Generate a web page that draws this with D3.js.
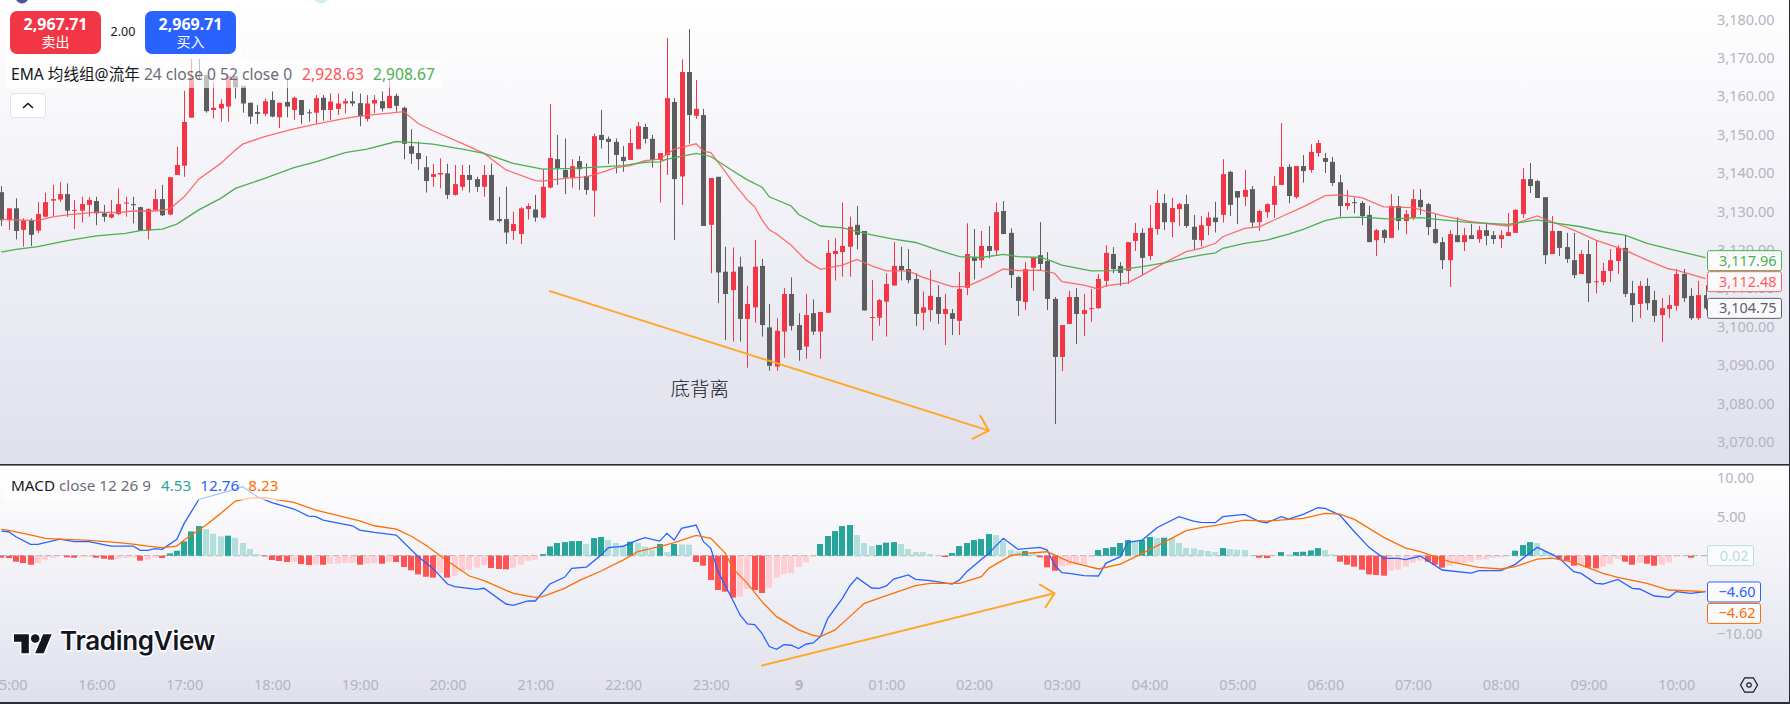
<!DOCTYPE html>
<html><head><meta charset="utf-8">
<script src="https://cdn.jsdelivr.net/npm/d3@7/dist/d3.min.js"></script>
<style>html,body{margin:0;padding:0;background:#fff;overflow:hidden}svg{display:block}</style>
</head><body><svg id="c" width="1790" height="704"></svg>
<script>
// Bars are 5-minute candles; bar number 0 is the 16:00 candle, first bar is number -13.
const firstBar = -13;
const opens = [
3135.0,3127.7,3130.8,3125.2,3127.7,3125.0,3128.6,3132.8,3133.1,3134.5,
3130.2,3130.2,3131.7,3132.7,3129.5,3128.4,3129.3,3132.1,3131.9,3131.1,
3125.0,3130.4,3133.2,3129.2,3139.5,3141.9,3154.4,3173.8,3165.5,3156.4,
3156.8,3157.3,3165.3,3162.7,3158.3,3155.9,3155.4,3159.0,3154.5,3158.5,
3156.4,3159.0,3155.8,3155.7,3159.6,3156.4,3156.7,3158.1,3158.7,3158.2,
3154.1,3158.1,3158.7,3156.9,3160.1,3157.0,3147.0,3145.2,3141.5,3139.0,
3139.6,3139.9,3134.3,3136.4,3139.5,3138.4,3136.4,3139.5,3128.0,3128.0,
3124.9,3124.1,3130.6,3130.5,3128.4,3136.2,3143.6,3140.8,3138.8,3143.1,
3139.2,3135.4,3149.9,3148.9,3148.1,3144.2,3143.4,3146.2,3152.0,3148.9,
3143.4,3144.7,3158.5,3139.1,3166.3,3154.9,3155.1,3126.5,3139.0,3114.3,
3109.5,3115.6,3102.0,3105.0,3115.8,3099.8,3089.6,3098.7,3108.5,3100.4,
3094.8,3103.5,3098.7,3103.6,3118.9,3119.4,3120.8,3126.5,3124.9,3102.3,
3102.3,3106.5,3110.7,3115.8,3115.0,3112.4,3103.6,3104.3,3107.7,3103.3,
3103.5,3101.5,3110.1,3118.0,3117.3,3121.0,3119.8,3130.1,3124.4,3112.9,
3106.4,3115.3,3118.6,3117.1,3107.2,3092.1,3100.7,3107.7,3103.3,3104.7,
3104.8,3111.9,3118.9,3115.8,3114.5,3122.3,3124.4,3118.4,3125.4,3132.2,
3127.2,3130.6,3131.9,3126.0,3122.5,3126.2,3128.4,3129.1,3140.3,3135.3,
3133.8,3135.8,3127.2,3129.8,3131.7,3136.9,3141.6,3133.7,3141.8,3140.8,
3145.2,3143.9,3142.9,3137.6,3131.4,3132.4,3132.2,3129.1,3122.5,3125.1,
3123.1,3131.4,3127.5,3128.3,3133.0,3131.9,3125.4,3122.0,3117.3,3123.8,
3122.0,3123.8,3122.8,3125.1,3123.8,3122.8,3123.6,3124.4,3129.3,3138.4,
3137.9,3133.7,3118.9,3124.9,3120.7,3117.3,3113.7,3118.9,3111.6,3111.6,
3114.5,3117.1,3120.5,3108.7,3105.9,3110.6,3106.9,3103.0,3104.6,3105.4,
3113.7,3108.0,3102.2,3108.2];
const highs = [
3136.6,3130.8,3133.4,3128.2,3128.2,3132.4,3134.9,3136.9,3137.6,3137.3,
3133.0,3133.8,3133.8,3133.8,3131.7,3133.0,3136.0,3133.8,3133.8,3131.2,
3130.8,3135.8,3136.9,3138.9,3146.9,3161.4,3171.2,3176.0,3165.5,3163.6,
3159.2,3165.3,3165.3,3162.7,3158.3,3157.7,3159.4,3161.2,3158.3,3164.2,
3159.9,3159.0,3156.6,3160.3,3160.3,3160.7,3160.7,3159.4,3161.2,3160.7,
3160.3,3160.3,3161.2,3164.4,3160.7,3157.3,3151.4,3148.2,3144.4,3142.3,
3143.8,3142.4,3142.1,3142.1,3142.1,3139.0,3142.1,3142.5,3133.8,3136.4,
3129.9,3131.1,3132.1,3134.3,3141.0,3158.0,3149.9,3149.0,3143.6,3144.4,
3142.5,3150.3,3156.4,3149.5,3149.0,3147.0,3151.5,3153.3,3152.8,3149.9,
3145.2,3175.2,3159.5,3169.6,3177.5,3164.2,3156.7,3138.7,3139.0,3120.8,
3120.6,3118.2,3110.6,3122.6,3117.6,3105.9,3102.2,3110.0,3112.8,3103.5,
3108.5,3107.1,3103.8,3122.6,3123.0,3132.3,3128.6,3131.4,3124.9,3112.1,
3107.2,3113.9,3122.0,3120.8,3120.2,3113.9,3109.1,3114.7,3110.8,3108.5,
3104.6,3114.2,3126.9,3125.4,3124.9,3126.2,3132.3,3132.7,3125.6,3113.2,
3116.8,3118.0,3127.2,3119.4,3107.7,3100.4,3109.3,3110.0,3108.5,3109.8,
3113.7,3121.2,3120.7,3116.8,3122.0,3127.0,3125.6,3131.7,3135.6,3134.5,
3133.5,3132.2,3134.3,3129.1,3128.8,3129.9,3132.5,3143.6,3140.6,3135.3,
3140.8,3136.6,3130.4,3132.1,3139.2,3153.0,3142.3,3141.8,3144.7,3147.5,
3148.6,3145.2,3144.2,3139.5,3135.6,3133.6,3132.7,3131.4,3125.4,3125.4,
3134.5,3134.0,3130.4,3135.8,3135.8,3132.2,3129.3,3123.3,3125.1,3128.5,
3125.7,3126.7,3126.2,3126.7,3124.9,3125.1,3129.6,3130.6,3141.3,3142.6,
3138.2,3133.7,3128.8,3124.9,3124.4,3124.4,3119.9,3122.5,3122.3,3116.6,
3120.2,3121.2,3123.8,3111.9,3111.9,3112.6,3109.3,3107.4,3108.2,3115.0,
3115.0,3110.0,3111.9,3110.8];
const lows = [
3126.2,3125.2,3122.7,3120.8,3121.0,3124.3,3128.5,3128.8,3132.5,3128.6,
3125.4,3127.1,3128.6,3126.4,3127.3,3128.2,3129.0,3128.6,3126.9,3125.0,
3122.7,3130.2,3128.8,3129.0,3139.5,3139.0,3154.4,3164.2,3155.7,3154.2,
3153.4,3153.4,3159.4,3155.7,3152.8,3152.8,3154.8,3154.5,3151.7,3154.5,
3153.8,3152.8,3153.4,3152.8,3153.6,3153.8,3155.1,3155.5,3157.4,3152.2,
3153.4,3155.5,3156.0,3156.8,3156.0,3143.6,3142.4,3140.8,3134.9,3136.4,
3136.0,3133.2,3134.1,3135.4,3134.9,3135.1,3133.8,3127.7,3127.1,3121.5,
3122.6,3121.5,3127.9,3127.3,3128.2,3136.0,3136.9,3134.5,3136.2,3135.6,
3134.3,3128.6,3146.4,3142.4,3139.9,3140.3,3143.4,3146.2,3147.7,3141.4,
3132.3,3139.5,3122.6,3131.7,3147.7,3154.1,3126.2,3113.9,3106.1,3096.5,
3096.1,3096.1,3089.3,3101.0,3097.4,3088.5,3088.5,3091.9,3099.0,3091.1,
3091.6,3097.8,3091.6,3103.6,3112.0,3113.0,3113.0,3120.1,3104.2,3096.3,
3100.2,3097.4,3110.7,3112.0,3111.3,3100.2,3099.1,3101.3,3100.7,3095.2,
3097.8,3097.8,3108.2,3112.3,3115.3,3117.8,3118.6,3124.1,3110.0,3102.8,
3104.3,3109.3,3114.6,3104.3,3074.6,3088.4,3100.7,3095.5,3097.6,3101.2,
3104.6,3110.3,3113.9,3110.6,3111.1,3119.7,3113.4,3117.3,3123.9,3125.2,
3123.3,3126.2,3125.7,3120.0,3120.8,3123.8,3124.5,3127.1,3128.8,3126.7,
3131.4,3125.8,3124.9,3128.3,3128.3,3136.9,3132.1,3133.3,3137.5,3140.1,
3144.2,3140.0,3136.6,3128.6,3130.4,3129.5,3126.4,3122.0,3118.4,3121.8,
3123.1,3125.1,3124.1,3127.8,3129.1,3123.8,3121.5,3115.0,3110.3,3122.0,
3119.7,3122.8,3121.8,3121.2,3121.5,3120.5,3123.6,3124.4,3128.3,3134.8,
3133.5,3116.3,3118.9,3118.4,3116.6,3112.6,3113.7,3106.4,3108.7,3110.8,
3111.6,3113.7,3107.7,3101.2,3102.2,3104.3,3101.2,3096.0,3102.2,3104.1,
3106.4,3101.7,3101.7,3104.3];
const closes = [
3127.7,3130.8,3124.9,3127.6,3123.9,3129.3,3132.4,3133.2,3134.5,3130.2,
3130.4,3131.9,3133.0,3129.5,3128.6,3129.3,3131.9,3132.3,3131.6,3125.0,
3130.6,3133.2,3129.0,3138.9,3142.1,3153.3,3164.9,3172.0,3156.1,3157.0,
3158.0,3165.3,3162.3,3158.1,3154.7,3155.4,3158.7,3154.7,3158.3,3157.3,
3159.6,3155.1,3155.6,3159.5,3156.4,3158.6,3158.1,3158.7,3158.1,3154.8,
3158.1,3159.0,3156.8,3160.1,3157.5,3147.6,3145.0,3143.6,3137.9,3139.7,
3140.0,3134.3,3137.1,3139.5,3138.2,3136.4,3139.5,3127.7,3127.5,3124.5,
3126.7,3130.8,3131.4,3128.4,3136.4,3143.9,3141.3,3138.8,3141.8,3141.0,
3135.6,3149.6,3148.6,3148.1,3144.7,3143.1,3147.8,3152.2,3148.9,3143.4,
3145.2,3159.5,3138.4,3166.3,3155.1,3156.7,3126.2,3138.7,3114.1,3108.5,
3114.3,3102.0,3105.9,3115.6,3100.4,3089.8,3098.9,3108.5,3100.2,3093.9,
3103.0,3098.7,3103.8,3119.2,3119.7,3121.0,3126.0,3123.9,3104.2,3102.5,
3106.9,3111.1,3115.8,3114.7,3112.1,3103.3,3105.0,3108.0,3103.3,3104.6,
3102.0,3109.8,3118.9,3117.1,3121.0,3119.7,3129.8,3124.1,3113.4,3106.7,
3115.0,3118.0,3116.3,3107.2,3092.1,3100.4,3107.7,3103.3,3104.3,3104.8,
3112.4,3119.2,3115.0,3114.0,3122.0,3124.4,3117.9,3125.7,3132.2,3127.2,
3130.9,3131.9,3126.2,3122.6,3126.4,3128.4,3127.2,3139.7,3131.7,3133.6,
3135.6,3127.1,3130.1,3131.9,3136.6,3141.6,3134.0,3141.8,3140.5,3145.5,
3147.8,3142.9,3137.4,3131.4,3132.2,3132.2,3128.8,3122.0,3125.1,3123.1,
3131.4,3127.5,3129.3,3133.2,3131.1,3125.9,3121.8,3117.3,3124.1,3122.0,
3123.8,3122.8,3125.1,3123.6,3122.8,3123.8,3124.6,3130.4,3138.4,3136.6,
3133.5,3118.6,3124.9,3120.5,3117.6,3113.4,3118.9,3111.3,3111.8,3114.5,
3117.3,3120.5,3108.5,3105.6,3110.6,3106.1,3102.8,3104.8,3105.6,3113.7,
3107.4,3102.2,3108.2,3104.75];

// EMA 24 / EMA 52: bar numbers and prices read at those bars
const ema24Bars = [-13,-8,-6,-4,0,3,5,8,10,12,14,17,19,20,23,27,30,34,36,39,42,44,46,50,53,56,60,61,64,67,69,71,73,75,77,79,82,83,84,86,87,89,90,91,92,93,95,97,99,102,104,106,108,111,113,117,119,122,124,126,129,131,132,135,137,138,141,143,146,149,151,153,154,157,159,162,165,168,170,173,176,180,184,188,193,197,199,202,205,209,212,215,216,220];
const ema24 = [3127.9,3127.6,3128.6,3129.1,3129.8,3129.7,3130.1,3130.1,3130.6,3133.8,3138.4,3142.5,3146.0,3147.5,3149.5,3151.5,3152.7,3154.2,3154.8,3155.4,3156.0,3152.9,3151.0,3147.7,3145.1,3140.8,3138.0,3137.9,3138.6,3139.0,3140.1,3141.4,3141.9,3143.2,3143.6,3146.2,3147.6,3145.7,3145.3,3140.3,3137.6,3133.0,3131.2,3127.8,3125.2,3124.1,3121.2,3117.3,3114.9,3116.0,3117.5,3115.8,3114.5,3114.5,3112.8,3110.4,3110.4,3113.0,3115.0,3114.6,3114.7,3113.9,3111.7,3110.8,3109.8,3110.6,3111.4,3113.4,3116.6,3119.5,3120.4,3121.7,3123.4,3125.6,3126.0,3128.6,3131.2,3134.1,3134.3,3133.6,3131.2,3131.0,3128.9,3127.3,3126.2,3128.8,3127.3,3125.1,3122.5,3119.9,3117.3,3115.0,3114.7,3112.48];
const ema52Bars = [-13,-11,-8,-4,0,4,6,9,11,14,17,19,23,27,30,34,37,41,43,46,50,53,57,61,65,69,72,75,77,78,82,84,87,89,91,92,95,96,99,102,106,109,112,115,118,121,124,126,129,130,132,136,139,143,146,149,151,153,154,157,160,163,165,168,170,173,177,181,184,188,193,197,199,203,206,209,212,216,220];
const ema52 = [3119.4,3120.1,3120.8,3122.4,3123.6,3124.3,3125.0,3125.4,3126.7,3130.4,3133.4,3136.0,3138.6,3141.4,3142.9,3145.3,3146.2,3148.2,3148.0,3147.5,3146.2,3145.1,3142.5,3141.0,3141.2,3141.6,3141.9,3142.8,3142.9,3143.6,3145.1,3144.3,3140.6,3138.2,3136.3,3133.8,3131.4,3129.2,3126.2,3125.7,3123.9,3122.8,3121.9,3120.0,3118.2,3118.0,3118.8,3118.2,3118.0,3117.5,3116.0,3114.5,3114.6,3115.6,3116.6,3117.9,3118.6,3119.2,3120.4,3121.7,3122.5,3124.1,3125.3,3127.6,3128.4,3128.5,3128.0,3128.4,3127.8,3127.1,3126.6,3127.8,3127.1,3126.0,3124.7,3123.8,3121.7,3119.8,3117.96];

// MACD histogram, one value per bar
const histogram = [
-.26,-.30,-.77,-.94,-1.16,-.94,-.51,-.26,-.04,-.21,
-.26,-.21,-.17,-.26,-.39,-.51,-.39,-.30,-.21,-.64,
-.51,-.21,-.30,.30,.64,1.84,3.12,3.81,3.42,2.82,
2.48,2.57,2.31,1.63,.86,.21,-.09,-.56,-.68,-.81,
-.77,-1.07,-1.20,-1.11,-1.16,-1.07,-1.03,-.94,-.90,-1.16,
-1.07,-.98,-1.03,-.77,-.81,-1.46,-1.88,-2.40,-2.70,-2.82,
-2.27,-2.82,-2.57,-2.05,-1.80,-1.54,-1.24,-1.58,-1.71,-1.75,
-1.54,-1.16,-.64,-.51,.21,1.20,1.63,1.75,1.88,1.89,
1.50,2.27,2.40,2.01,1.63,1.41,1.80,1.63,1.16,.77,
1.50,.47,1.50,1.46,1.41,-.81,-1.28,-3.12,-4.41,-4.62,
-5.39,-5.26,-4.28,-4.41,-4.79,-4.11,-2.82,-2.35,-2.23,-1.46,
-.86,-.13,1.50,2.53,3.17,3.81,3.94,2.65,1.63,1.24,
1.37,1.67,1.75,1.50,.86,.47,.46,.21,.09,-.17,
.34,1.24,1.63,2.01,2.14,2.78,2.65,1.88,.73,.56,
.60,.47,-.21,-1.50,-1.93,-1.37,-1.20,-1.11,-1.03,-.21,
.73,.98,1.11,1.63,2.01,1.88,2.01,2.40,2.27,2.31,
2.27,1.63,.98,.94,.73,.60,.47,.98,.86,.77,
.73,.04,-.26,-.30,-.04,.47,.17,.47,.51,.68,
.98,.73,.17,-.77,-1.16,-1.41,-1.80,-2.40,-2.48,-2.57,
-1.93,-1.80,-1.41,-.90,-.64,-.77,-1.16,-1.54,-1.28,-1.03,
-.90,-.77,-.51,-.47,-.26,-.21,-.04,.64,1.37,1.75,
1.63,.60,.30,-.39,-.64,-1.28,-1.16,-1.54,-1.63,-1.41,
-1.03,-.39,-.77,-1.16,-.90,-1.03,-1.28,-1.16,-.86,-.09,
-.04,-.26,-.04,.02];
const macdBars = [-13,-12,-11,-9,-8,-5,-3,-1,2,5,6,7,8,9,11,12,14,17,20,22,24,27,29,30,31,35,36,38,41,44,46,48,49,52,53,56,57,59,60,62,64,65,67,69,70,72,74,75,77,78,79,80,82,83,84,85,87,88,89,90,91,92,93,94,95,96,97,98,99,100,102,103,104,106,107,108,109,111,112,114,117,118,119,122,124,126,129,130,131,132,133,135,137,138,140,141,143,145,148,150,151,153,154,157,159,160,162,163,165,167,168,170,172,174,176,178,179,181,184,188,189,192,194,196,197,199,200,202,203,205,206,208,210,211,213,215,216,218,220];
const macdLine = [3.17,3.08,2.44,1.46,1.46,2.14,1.80,1.80,1.24,1.24,.68,.68,.90,.81,2.10,4.15,7.23,8.00,8.86,7.58,6.81,6.00,5.09,5.01,4.58,3.85,3.30,3.00,2.65,-.13,-1.63,-3.64,-3.98,-4.32,-4.19,-6.21,-6.38,-5.82,-5.82,-3.64,-2.78,-1.63,-1.46,.09,1.03,1.20,2.01,2.31,1.88,2.87,2.01,3.51,3.94,1.80,.94,-2.05,-5.69,-7.62,-8.77,-8.86,-9.97,-11.68,-12.03,-11.43,-11.51,-11.94,-11.38,-11.21,-10.40,-8.05,-5.48,-3.89,-2.82,-4.15,-4.19,-3.89,-3.00,-2.48,-3.04,-3.21,-3.64,-3.12,-2.05,.30,2.23,.81,1.07,.73,-1.20,-2.18,-2.27,-2.57,-2.61,-.98,-.13,1.71,2.01,3.60,5.01,4.45,4.28,4.24,5.01,5.31,4.37,4.24,5.01,4.71,5.31,6.16,6.08,5.22,3.08,1.07,-.34,-.34,-.51,-.04,-1.84,-2.23,-1.93,-1.93,-1.11,.39,1.07,.17,-.34,-2.05,-2.27,-3.55,-3.64,-3.04,-4.19,-4.28,-5.18,-5.35,-4.62,-4.84,-4.60];
const signalBars = [-13,-12,-10,-8,-7,-5,-1,3,5,7,9,11,12,15,17,19,21,23,25,27,30,36,38,41,43,45,48,51,53,57,60,61,64,66,69,72,74,77,79,82,84,86,87,89,91,93,96,98,99,101,103,105,108,112,114,118,121,122,125,127,130,133,137,140,143,147,149,151,153,157,160,165,168,170,172,176,179,181,185,189,192,194,197,199,202,206,208,212,215,220];
const signalLine = [3.38,3.25,2.87,2.44,2.23,2.14,1.97,1.67,1.50,1.24,1.03,1.24,2.01,3.94,5.44,7.02,7.40,7.45,7.15,6.85,5.86,4.49,3.85,3.42,2.53,1.37,-.68,-2.61,-3.21,-4.84,-5.35,-5.26,-4.19,-3.21,-1.97,-.56,.51,1.16,1.67,2.61,2.23,.30,-1.63,-3.55,-5.91,-7.83,-9.54,-10.23,-10.40,-9.54,-7.83,-6.12,-5.14,-3.85,-3.55,-3.55,-2.70,-1.63,0,.30,.51,-.77,-1.71,-1.07,.30,2.23,3.21,3.60,3.89,4.58,4.45,4.79,5.44,5.35,4.67,2.35,.98,.51,-.77,-1.50,-1.71,-1.41,-.43,-.30,-.86,-2.27,-2.78,-3.55,-4.41,-4.62];

const priceTicks = d3.range(3070,3181,10);
const macdTicks = [10,5,-10];
const timeBars = d3.range(-12,217,12);
const timeLabels = ["15:00","16:00","17:00","18:00","19:00","20:00","21:00","22:00","23:00","9","01:00","02:00","03:00","04:00","05:00","06:00","07:00","08:00","09:00","10:00"];

// Hand-drawn arrows, anchored at bar number + value
const priceArrowBars = [61.9,122.0], priceArrowValues = [3109.3,3072.9];
const priceHeadBars = [120.8,122.0,119.7], priceHeadValues = [3077.0,3072.9,3070.7];
const macdArrowBars = [90.9,131.0], macdArrowValues = [-14.14,-4.83];
const macdHeadBars = [128.9,131.0,129.7], macdHeadValues = [-3.64,-4.83,-6.72];

const fmt = d3.format(",.2f");
const FONT = '"Noto Sans","Open Sans",sans-serif';
const CJK = '"Noto Sans CJK SC","Noto Sans",sans-serif';
const MIX = '"Noto Sans","Noto Sans CJK SC",sans-serif';
const RED="#f23645", GRAY="#5d5d5d", UP24="#ff5e5e", G52="#4caf50", BLUE="#2962ff", ORANGE="#ff6d00", ARROW="#ffa726", AXT="#b2b5be";

const W=1790,H=704, paneR=1707, p1B=465, p2T=466, p2B=665;
const x = d3.scaleLinear().domain([-13,220]).range([1.32,1705.5]);
const yP = d3.scaleLinear().domain([3180,3070]).range([19.4,441.8]);
const yM = d3.scaleLinear().domain([10,-10]).range([477.9,633.5]);

const svg = d3.select("#c");
const defs = svg.append("defs");
const grad = defs.append("linearGradient").attr("id","bg").attr("x1",0).attr("y1",0).attr("x2",0).attr("y2",1);
grad.append("stop").attr("offset",0).attr("stop-color","#ffffff");
grad.append("stop").attr("offset",1).attr("stop-color","#e0e0ed");
defs.append("clipPath").attr("id","cp1").append("rect").attr("width",paneR).attr("height",p1B);
defs.append("clipPath").attr("id","cp2").append("rect").attr("y",p2T).attr("width",paneR).attr("height",p2B+40-p2T);

svg.append("rect").attr("width",W).attr("height",p1B).attr("fill","url(#bg)");
svg.append("rect").attr("y",p2T).attr("width",W).attr("height",H-p2T).attr("fill","url(#bg)");

// candles
const bars = opens.map((o,k)=>({i:firstBar+k,o,h:highs[k],l:lows[k],c:closes[k]}));
const g1 = svg.append("g").attr("clip-path","url(#cp1)");
const cg = g1.selectAll("g.c").data(bars).join("g").attr("class","c");
const col = d=>d.c>=d.o?RED:GRAY;
cg.append("line").attr("x1",d=>Math.round(x(d.i))+.5).attr("x2",d=>Math.round(x(d.i))+.5)
  .attr("y1",d=>yP(d.h)).attr("y2",d=>yP(d.l)).attr("stroke",col).attr("stroke-width",1);
cg.append("rect").attr("x",d=>Math.round(x(d.i))-2).attr("width",5)
  .attr("y",d=>yP(Math.max(d.o,d.c))).attr("height",d=>Math.max(1,Math.abs(yP(d.o)-yP(d.c)))).attr("fill",col);

// EMA lines
const linePath=(xs,ys,sy)=>d3.line().x((d,k)=>x(xs[k])).y(d=>sy(d))(ys);
g1.append("path").attr("d",linePath(ema24Bars,ema24,yP)).attr("fill","none").attr("stroke",UP24).attr("stroke-width",1.3).attr("opacity",.9);
g1.append("path").attr("d",linePath(ema52Bars,ema52,yP)).attr("fill","none").attr("stroke",G52).attr("stroke-width",1.3);

// price arrow
const arrow=(g,xs,ys,hx,hy,sy)=>{
  g.append("path").attr("d",linePath(xs,ys,sy)).attr("fill","none").attr("stroke",ARROW).attr("stroke-width",2);
  g.append("path").attr("d",linePath(hx,hy,sy)).attr("fill","none").attr("stroke",ARROW).attr("stroke-width",2);
};
arrow(g1,priceArrowBars,priceArrowValues,priceHeadBars,priceHeadValues,yP);
svg.append("text").text("底背离").attr("x",x(82.5)).attr("y",yP(3082)).attr("text-anchor","middle")
  .attr("font-family",CJK).attr("font-size",19.5).attr("font-weight",300).attr("fill","#131722");

// MACD pane
const g2 = svg.append("g").attr("clip-path","url(#cp2)");
g2.append("line").attr("x1",0).attr("x2",paneR).attr("y1",yM(0)).attr("y2",yM(0)).attr("stroke","#9598a1").attr("stroke-width",1).attr("stroke-dasharray","6 3").attr("opacity",.8);
const histCol=(v,k)=>{const p=k?histogram[k-1]:v+.01; return v>=0?(p<v?"#26a69a":"#b2dfdb"):(p<v?"#ffcdd2":"#ff5252");};
g2.selectAll("rect.h").data(histogram).join("rect").attr("class","h")
  .attr("x",(d,k)=>Math.round(x(firstBar+k))-3).attr("width",6)
  .attr("y",d=>yM(Math.max(d,0))).attr("height",d=>Math.abs(yM(d)-yM(0))).attr("fill",histCol);
g2.append("path").attr("d",linePath(macdBars,macdLine,yM)).attr("fill","none").attr("stroke",BLUE).attr("stroke-width",1.3);
g2.append("path").attr("d",linePath(signalBars,signalLine,yM)).attr("fill","none").attr("stroke",ORANGE).attr("stroke-width",1.3);
arrow(g2,macdArrowBars,macdArrowValues,macdHeadBars,macdHeadValues,yM);

// axes
const styleAxis=(g,size)=>{g.select(".domain").remove();g.selectAll("line").remove();g.selectAll("text").attr("fill",AXT).attr("font-family",FONT).attr("font-size",size);};
svg.append("g").attr("transform",`translate(1717,0)`).call(d3.axisRight(yP).tickValues(priceTicks).tickSize(0).tickPadding(0).tickFormat(fmt)).call(g=>styleAxis(g,14.5));
svg.append("g").attr("transform",`translate(1717,0)`).call(d3.axisRight(yM).tickValues(macdTicks).tickSize(0).tickPadding(0).tickFormat(v=>fmt(v).replace("-","−"))).call(g=>styleAxis(g,14.5));
const axT = svg.append("g").attr("transform",`translate(0,680)`).call(d3.axisBottom(x).tickValues(timeBars).tickSize(0).tickPadding(0).tickFormat((d,k)=>timeLabels[k])).call(g=>styleAxis(g,14.5));
axT.selectAll("text").filter(d=>d===96).attr("font-weight",700);

// price labels
const tag=(val,yPos,color,w,txt)=>{
  const g=svg.append("g").attr("transform",`translate(1707.5,${yPos-10})`);
  g.append("rect").attr("width",w).attr("height",20).attr("rx",2).attr("fill","#fff").attr("fill-opacity",.75).attr("stroke",color).attr("stroke-width",1);
  g.append("text").attr("x",w-5).attr("y",15).attr("text-anchor","end").attr("font-family",FONT).attr("font-size",14.5).attr("fill",txt||color).text(val);
};
tag(fmt(ema52[ema52.length-1]),yP(ema52[ema52.length-1])+3,G52,74);
tag(fmt(ema24[ema24.length-1]),yP(ema24[ema24.length-1])+3,UP24,74);
tag(fmt(closes[closes.length-1]),yP(closes[closes.length-1]),"#5d606b",74);
tag(fmt(histogram[histogram.length-1]),yM(0),"#b2dfdb",46);
tag(fmt(macdLine[macdLine.length-1]).replace("-","−"),yM(-4.6)+.5,BLUE,53);
tag(fmt(signalLine[signalLine.length-1]).replace("-","−"),yM(-4.62)+21.8,ORANGE,53);

// legend panels
const t=(g,parts,xx,yy,size)=>{
  const tx=g.append("text").attr("x",xx).attr("y",yy).attr("font-family",MIX).attr("font-size",size);
  parts.forEach(p=>tx.append("tspan").attr("dx",p[2]||0).attr("fill",p[1]).text(p[0]));
};
svg.append("rect").attr("x",6).attr("y",59).attr("width",435).attr("height",29).attr("fill","#fff").attr("fill-opacity",.62);
svg.append("rect").attr("x",5).attr("y",467).attr("width",276).attr("height",33).attr("fill","#fff").attr("fill-opacity",.62);
t(svg,[["EMA 均线组@流年","#131722"],[" 24 close 0 52 close 0","#6a6d78"],["2,928.63","#ff5252",10],["2,908.67","#4caf50",9]],11,80,15.6);
t(svg,[["MACD","#131722"],[" close 12 26 9","#6a6d78"],["4.53","#26a69a",10],["12.76","#2962ff",9],["8.23","#ff6d00",9]],11,491,15.25);

// order box
svg.append("rect").attr("x",6).attr("y",0).attr("width",235).attr("height",59).attr("fill","#fff");
svg.append("circle").attr("cx",22).attr("cy",-3).attr("r",6.5).attr("fill","#4f5496");
svg.append("circle").attr("cx",321).attr("cy",-4).attr("r",7.5).attr("fill","#cfeeea");
const btn=(bx,c,a,b)=>{
  svg.append("rect").attr("x",bx).attr("y",11).attr("width",91).attr("height",43).attr("rx",7).attr("fill",c);
  svg.append("text").attr("x",bx+45.5).attr("y",30).attr("text-anchor","middle").attr("font-family",FONT).attr("font-size",16).attr("font-weight",700).attr("fill","#fff").text(a);
  svg.append("text").attr("x",bx+45.5).attr("y",47).attr("text-anchor","middle").attr("font-family",CJK).attr("font-size",14).attr("fill","#fff").text(b);
};
btn(10,RED,"2,967.71","卖出"); btn(145,BLUE,"2,969.71","买入");
svg.append("text").attr("x",123).attr("y",36).attr("text-anchor","middle").attr("font-family",FONT).attr("font-size",12.5).attr("fill","#131722").text("2.00");

// collapse button
svg.append("rect").attr("x",10.5).attr("y",93.5).attr("width",35).attr("height",24).attr("rx",3).attr("fill","#fff").attr("stroke","#e0e3eb");
svg.append("path").attr("d","M23 108l5-4.5 5 4.5").attr("fill","none").attr("stroke","#131722").attr("stroke-width",1.6);

// watermark
const wm=svg.append("g").attr("transform","translate(14,630) scale(1.06)");
const logo="M14 22H7V11H0V4h14v18zM28 22h-8l7.5-18h8L28 22z";
wm.append("path").attr("d",logo).attr("fill","#131722").attr("stroke","#fff").attr("stroke-width",3).attr("paint-order","stroke");
wm.append("circle").attr("cx",20).attr("cy",8).attr("r",4).attr("fill","#131722").attr("stroke","#fff").attr("stroke-width",3).attr("paint-order","stroke");
svg.append("text").attr("x",60).attr("y",650).attr("font-family","Inter,'Noto Sans',sans-serif").attr("font-size",26).attr("font-weight",600).attr("letter-spacing",-.3)
  .attr("fill","#131722").attr("stroke","#fff").attr("stroke-width",3).attr("paint-order","stroke").text("TradingView");

// settings hexagon
const hex=svg.append("g").attr("transform","translate(1749,685)");
hex.append("path").attr("d","M-8.5 0L-4.3-7.2H4.3L8.5 0 4.3 7.2H-4.3Z").attr("fill","none").attr("stroke","#131722").attr("stroke-width",1.2);
hex.append("circle").attr("r",2.2).attr("fill","none").attr("stroke","#131722").attr("stroke-width",1.2);

// frame lines
svg.append("rect").attr("y",464).attr("width",W).attr("height",1.6).attr("fill","#2a2e39");
svg.append("rect").attr("y",702).attr("width",W).attr("height",2).attr("fill","#2a2e39");
svg.append("rect").attr("x",1789).attr("width",1).attr("height",H).attr("fill","#2a2e39");
</script></body></html>
